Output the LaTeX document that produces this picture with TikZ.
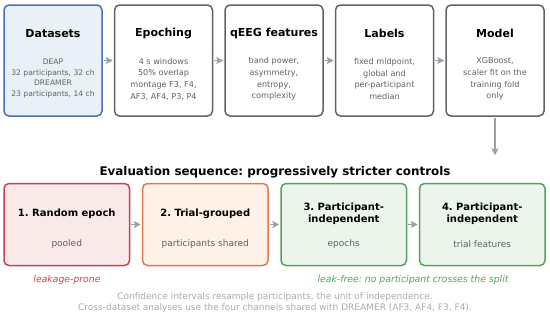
\documentclass[tikz,border=0pt]{standalone}
\usepackage{fontspec}
\setmainfont{DejaVu Sans}
\usetikzlibrary{arrows.meta, positioning}
\definecolor{stageblue}{HTML}{4A72B0}
\definecolor{lightstageblue}{HTML}{EAF0F8}
\definecolor{stagegray}{HTML}{60646A}
\definecolor{leakred}{HTML}{C8434F}
\definecolor{lightleakred}{HTML}{F9E9E9}
\definecolor{trialorange}{HTML}{E07B45}
\definecolor{lighttrialorange}{HTML}{FDF1E8}
\definecolor{safegreen}{HTML}{52A35E}
\definecolor{lightsafegreen}{HTML}{ECF5EC}
\definecolor{arrowgray}{HTML}{9AA1AA}
\definecolor{bodygray}{HTML}{5E6268}
\definecolor{notegray}{HTML}{A9ABAE}
\tikzset{
  stage/.style={
    rectangle, draw=#1, fill=white, rounded corners=5pt,
    minimum width=98pt, minimum height=111pt, line width=1.5pt
  },
  stage/.default=stagegray,
  split/.style={
    rectangle, draw=#1, fill=light#1, rounded corners=5pt,
    minimum width=125.5pt, minimum height=82pt, line width=1.5pt
  },
  stagetitle/.style={font=\fontsize{11}{12}\selectfont\bfseries, align=center, inner sep=0pt},
  splittitle/.style={font=\fontsize{10}{12}\selectfont\bfseries, align=center, inner sep=0pt},
  stagetext/.style={font=\fontsize{8.1}{11.7}\selectfont, text=bodygray, align=center, inner sep=0pt},
  splittext/.style={font=\fontsize{9}{11}\selectfont, text=bodygray, align=center, inner sep=0pt},
  note/.style={font=\fontsize{9.3}{11}\selectfont\itshape, inner sep=0pt},
  arrow/.style={-{Stealth[length=7pt, width=7pt, inset=1.5pt]}, draw=arrowgray, fill=arrowgray, line width=1.5pt, shorten >=1pt, shorten <=1pt},
}

\begin{document}
\frenchspacing
\begin{tikzpicture}[x=1pt, y=-1pt]
\useasboundingbox (0,0) rectangle (550,316);

% Pipeline
\node[stage=stageblue, fill=lightstageblue] (datasets) at (53,60.5) {};
\node[stage, right=11pt of datasets] (epoching) {};
\node[stage, right=11pt of epoching] (features) {};
\node[stage, right=11pt of features] (labels) {};
\node[stage, right=11pt of labels] (model) {};

\node[stagetitle] (datasets-title) at ([yshift=-29.5pt]datasets.north) {Datasets};
\node[stagetitle] (epoching-title) at ([yshift=-29.5pt]epoching.north) {Epoching};
\node[stagetitle] (features-title) at ([yshift=-29.5pt]features.north) {qEEG features};
\node[stagetitle] (labels-title) at ([yshift=-29.5pt]labels.north) {Labels};
\node[stagetitle] (model-title) at ([yshift=-29.5pt]model.north) {Model};

\node[stagetext, font=\fontsize{7.6}{10.4}\selectfont] (datasets-text) at ([yshift=-18pt]datasets.center) {DEAP\\32 participants, 32 ch\\DREAMER\\23 participants, 14 ch};
\node[stagetext] (epoching-text) at ([yshift=-18.5pt]epoching.center) {4 s windows\\50\% overlap\\montage F3, F4,\\AF3, AF4, P3, P4};
\node[stagetext] (features-text) at ([yshift=-18.5pt]features.center) {band power,\\asymmetry,\\entropy,\\complexity};
\node[stagetext] (labels-text) at ([yshift=-18.5pt]labels.center) {fixed midpoint,\\global and\\per-participant\\median};
\node[stagetext] (model-text) at ([yshift=-18.5pt]model.center) {XGBoost,\\scaler fit on the\\training fold\\only};

\draw[arrow] (datasets) -- (epoching);
\draw[arrow] (epoching) -- (features);
\draw[arrow] (features) -- (labels);
\draw[arrow] (labels) -- (model);

\coordinate (eval-entry) at ([yshift=-38.5pt]model.south);
\draw[arrow, shorten >=0pt] (model.south) -- (eval-entry);

% Evaluation sequence
\node[font=\fontsize{11.9}{13}\selectfont\bfseries, inner sep=0pt] (eval-title) at (275,172) {Evaluation sequence: progressively stricter controls};

\node[split=leakred] (random) at (66.75,224.5) {};
\node[split=trialorange, right=11.5pt of random] (trial) {};
\node[split=safegreen, right=11.5pt of trial] (pi-epochs) {};
\node[split=safegreen, right=11.5pt of pi-epochs] (pi-trials) {};

\node[splittitle] (random-title) at ([yshift=10.5pt]random.center) {1. Random epoch};
\node[splittitle] (trial-title) at ([yshift=10.5pt]trial.center) {2. Trial-grouped};
\node[splittitle] (pi-epochs-title) at ([yshift=10.5pt]pi-epochs.center) {3. Participant-\\independent};
\node[splittitle] (pi-trials-title) at ([yshift=10.5pt]pi-trials.center) {4. Participant-\\independent};

\node[splittext] (random-text) at ([yshift=-20pt]random.center) {pooled};
\node[splittext] (trial-text) at ([yshift=-20pt]trial.center) {participants shared};
\node[splittext] (pi-epochs-text) at ([yshift=-20pt]pi-epochs.center) {epochs};
\node[splittext] (pi-trials-text) at ([yshift=-20pt]pi-trials.center) {trial features};

\draw[arrow] (random) -- (trial);
\draw[arrow] (trial) -- (pi-epochs);
\draw[arrow] (pi-epochs) -- (pi-trials);

\node[note, text=leakred] (leak-note) at (67,280) {leakage-prone};
\node[note, text=safegreen] (free-note) at (413,280) {leak-free: no participant crosses the split};

\node[font=\fontsize{9}{11.6}\selectfont, text=notegray, align=center, inner sep=0pt] (footer) at (275,302.5) {Confidence intervals resample participants, the unit of independence.\\Cross-dataset analyses use the four channels shared with DREAMER (AF3, AF4, F3, F4).};

\end{tikzpicture}
\end{document}
